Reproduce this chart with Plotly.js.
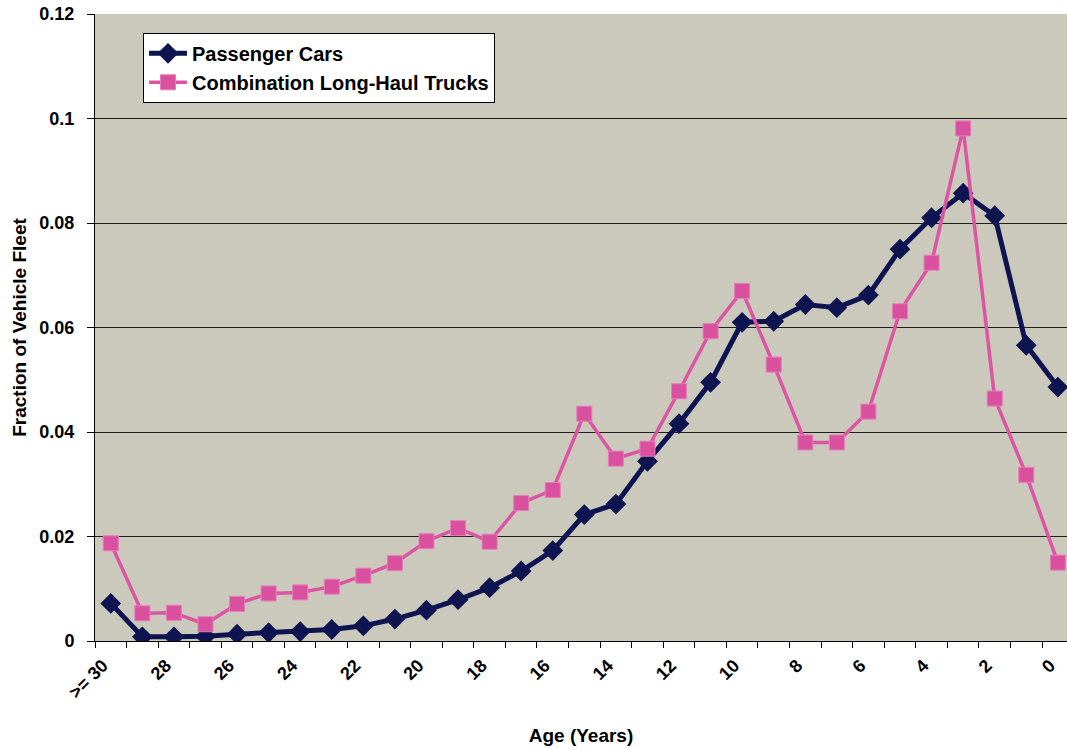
<!DOCTYPE html>
<html>
<head>
<meta charset="utf-8">
<script src="https://cdn.plot.ly/plotly-3.0.1.min.js"></script>
<style>
  html, body { margin: 0; padding: 0; background: #ffffff; }
  #chart { width: 1067px; height: 749px; }
</style>
</head>
<body>
<div id="chart"></div>
<script>
// Age categories (oldest to newest)
var ages = [">= 30", "29", "28", "27", "26", "25", "24", "23", "22", "21", "20",
            "19", "18", "17", "16", "15", "14", "13", "12", "11", "10",
            "9", "8", "7", "6", "5", "4", "3", "2", "1", "0"];

// Tick labels shown on the axis (every other category)
var shownLabels = [">= 30", "28", "26", "24", "22", "20", "18", "16", "14", "12", "10", "8", "6", "4", "2", "0"];

// Fraction of vehicle fleet - passenger cars
var passengerCars = [0.0072, 0.0008, 0.0008, 0.0009, 0.0013, 0.0016, 0.0018, 0.0022, 0.0029, 0.0042, 0.0059,
                     0.0079, 0.0102, 0.0134, 0.0173, 0.0242, 0.0262, 0.0344, 0.0416, 0.0495, 0.0610,
                     0.0612, 0.0644, 0.0638, 0.0662, 0.0750, 0.0810, 0.0857, 0.0814, 0.0566, 0.0486];

// Fraction of vehicle fleet - combination long-haul trucks
var longHaulTrucks = [0.0187, 0.0053, 0.0054, 0.0032, 0.0071, 0.0091, 0.0093, 0.0104, 0.0125, 0.0149, 0.0191,
                      0.0216, 0.0190, 0.0264, 0.0289, 0.0435, 0.0349, 0.0368, 0.0478, 0.0593, 0.0670,
                      0.0529, 0.0380, 0.0380, 0.0439, 0.0631, 0.0724, 0.0981, 0.0464, 0.0318, 0.0150];

var tickText = ages.map(function (a) { return shownLabels.indexOf(a) >= 0 ? a : ""; });

var FONT = "Liberation Sans, Arial, sans-serif";

var traces = [
  {
    x: ages, y: passengerCars, type: "scatter", mode: "lines+markers",
    name: "<b>Passenger Cars</b>", legendgroup: "a",
    line: { color: "#0d1450", width: 5 },
    marker: { symbol: "diamond", size: 16, color: "#0d1450" }
  },
  {
    x: ages, y: longHaulTrucks, type: "scatter", mode: "lines+markers",
    name: "<b>Combination Long-Haul Trucks</b>", legendgroup: "b",
    line: { color: "#dc55a3", width: 3.5 },
    marker: { symbol: "square", size: 15, color: "#d9509f", line: { color: "#e77bbb", width: 1 } }
  }
];

var layout = {
  width: 1067, height: 749,
  margin: { l: 95, r: 0, t: 14, b: 108 },
  paper_bgcolor: "#ffffff",
  plot_bgcolor: "#cac9bb",
  font: { family: FONT, color: "#000000" },
  showlegend: true,
  legend: {
    x: 0.0494, y: 0.97, xanchor: "left", yanchor: "top",
    bgcolor: "#ffffff", bordercolor: "#000000", borderwidth: 1,
    font: { family: FONT, size: 20, color: "#000000" },
    itemwidth: 38,
    traceorder: "grouped", tracegroupgap: 0
  },
  xaxis: {
    type: "category",
    range: [-0.5, 30.29],
    tickmode: "array", tickvals: ages, ticktext: tickText,
    tickson: "boundaries",
    ticks: "outside", ticklen: 6, tickcolor: "#000000", tickwidth: 1,
    tickangle: -45,
    ticklabelshift: -8, ticklabelstandoff: 6,
    tickfont: { family: FONT, size: 18, color: "#000000", weight: "bold" },
    showgrid: false, zeroline: false,
    showline: true, linecolor: "#000000", linewidth: 1,
    title: { text: "<b>Age (Years)</b>", font: { family: FONT, size: 19, color: "#000000" }, standoff: 27 }
  },
  yaxis: {
    range: [0, 0.12], dtick: 0.02, tick0: 0,
    ticks: "outside", ticklen: 7, tickcolor: "#000000", tickwidth: 1,
    ticklabelstandoff: 9,
    tickfont: { family: FONT, size: 18, color: "#000000", weight: "bold" },
    showgrid: true, gridcolor: "#1e1e1e", gridwidth: 1,
    zeroline: false,
    showline: true, linecolor: "#000000", linewidth: 1,
    title: { text: "<b>Fraction of Vehicle Fleet</b>", font: { family: FONT, size: 19, color: "#000000" }, standoff: 7 }
  }
};

Plotly.newPlot("chart", traces, layout, { displayModeBar: false, staticPlot: true });
</script>
</body>
</html>
